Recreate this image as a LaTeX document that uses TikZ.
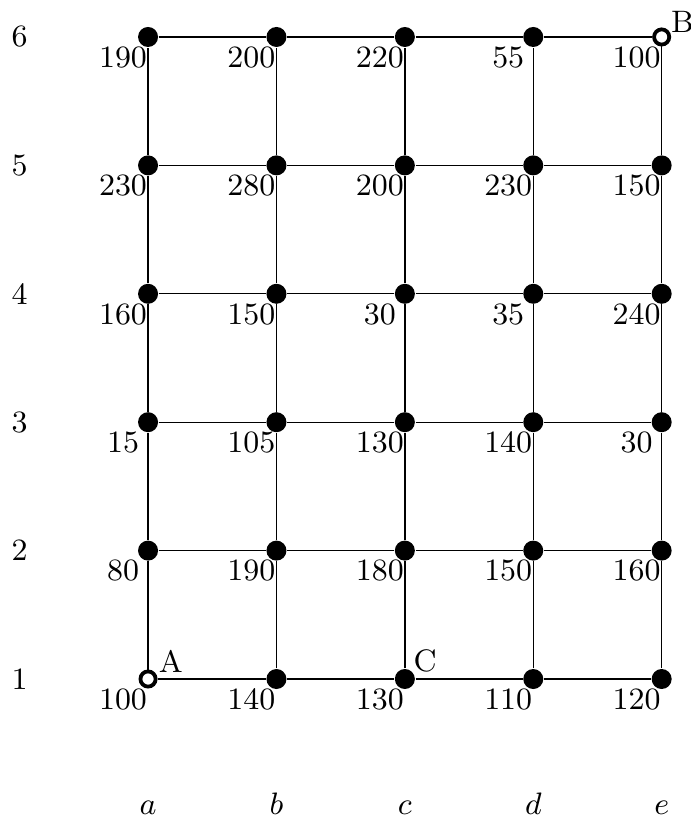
\documentclass[tikz,border=0pt]{standalone}
\begin{document}
\fontsize{9}{11}\selectfont
\begin{tikzpicture}[x=37.24pt,y=37.24pt,
  dot/.style={circle,fill=black,inner sep=0pt,minimum size=5.8pt},
  hole/.style={circle,draw=black,fill=white,line width=1.1pt,inner sep=0pt,minimum size=4.4pt},
  pt/.style={dot},
  pt-1-1/.style={hole},
  pt-5-6/.style={hole},
  val/.style={anchor=north,inner sep=0pt},
  letter/.style={anchor=south west,inner sep=0pt},
  axis/.style={inner sep=0pt},
  gridline/.style={line width=0.4pt,draw=black}]
\useasboundingbox (-0.153,-0.098) rectangle (5.221,6.288);
% points and values
\foreach \j/\vals in {6/{190,200,220,55,100},5/{230,280,200,230,150},4/{160,150,30,35,240},3/{15,105,130,140,30},2/{80,190,180,150,160},1/{100,140,130,110,120}}{
  \foreach \v [count=\i] in \vals {
    \node[pt,pt-\i-\j/.try] (n-\i-\j) at (\i,\j) {};
    \node[val] (v-\i-\j) at (\i-0.195,\j-0.07) {\v};
  }
}
% grid lines
\foreach \i in {1,...,5}{
  \foreach \j [evaluate=\j as \k using int(\j+1)] in {1,...,5}{
    \draw[gridline] (n-\i-\j) -- (n-\i-\k);
  }
}
\foreach \j in {1,...,6}{
  \foreach \i [evaluate=\i as \k using int(\i+1)] in {1,...,4}{
    \draw[gridline] (n-\i-\j) -- (n-\k-\j);
  }
}
% row labels
\foreach \j in {1,...,6}{
  \node[axis] (row-\j) at (0,\j) {\j};
}
% column labels
\foreach \c [count=\i] in {a,b,c,d,e}{
  \node[axis,anchor=base] (col-\c) at (\i,-0.059) {$\c$};
}
% letters
\node[letter] (lab-A) at (1.078,1.047) {A};
\node[letter] (lab-C) at (3.062,1.047) {C};
\node[letter] (lab-B) at (5.068,6.031) {B};
\end{tikzpicture}
\end{document}
